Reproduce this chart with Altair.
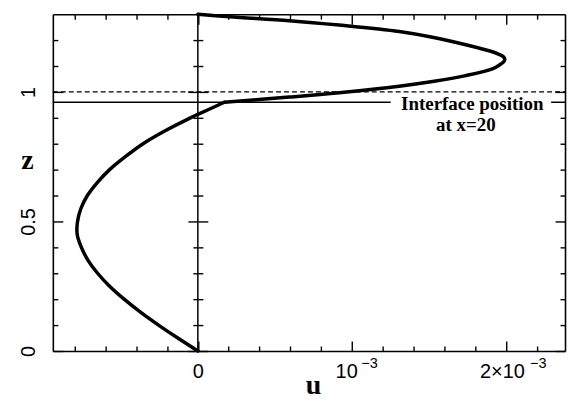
import json
import altair as alt
import pandas as pd

# ---- data ----
# lower branch (z = 0 ... interface kink)
u_lower = [0.0, -0.000130, -0.000255, -0.000372, -0.000478, -0.000572, -0.000650,
           -0.000712, -0.000755, -0.000782, -0.000780, -0.000758, -0.000716,
           -0.000652, -0.000572, -0.000470, -0.000355, -0.000212, -0.000048, 0.0,
           0.000172]
z_lower = [0.0, 0.05, 0.10, 0.15, 0.20, 0.25, 0.30, 0.35, 0.40, 0.45, 0.50, 0.55,
           0.60, 0.65, 0.70, 0.75, 0.80, 0.85, 0.90, 0.913, 0.960]
# upper branch (interface kink ... top)
u_upper = [0.000172, 0.000593, 0.000916, 0.001305, 0.001521, 0.001737, 0.001909,
           0.001955, 0.001982, 0.001990, 0.001978, 0.001945, 0.001909, 0.001737,
           0.001521, 0.001305, 0.000916, 0.000593, 0.000204, 0.0]
z_upper = [0.960, 0.980, 0.997, 1.022, 1.040, 1.063, 1.089, 1.104, 1.116, 1.126,
           1.137, 1.147, 1.155, 1.182, 1.211, 1.233, 1.258, 1.275, 1.290, 1.300]

interface_z = [0.96, 0.96]
dashed_z = [1.0]
x_label_values = [0, 0.001, 0.002]
x_label_base = ["0", "10", "2\u00d710"]
x_label_sup_values = [0.001, 0.002]
x_label_sup = "\u22123"
y_label_values = [0, 0.5, 1]
y_label_texts = ["0", "0.5", "1"]
x_tick_values = [-0.0008, -0.0006, -0.0004, -0.0002, 0, 0.0002, 0.0004, 0.0006,
                 0.0008, 0.001, 0.0012, 0.0014, 0.0016, 0.0018, 0.002, 0.0022]
y_tick_values = [0, 0.1, 0.2, 0.3, 0.4, 0.5, 0.6, 0.7, 0.8, 0.9, 1.0, 1.1, 1.2]
annot_labels = ["Interface position", "at x=20"]

# ---- layout / annotation positions ----
X_DOMAIN = [-0.00094, 0.00238]
Y_DOMAIN = [0, 1.3]
W, H = 514, 338
x0_px = (0 - X_DOMAIN[0]) / (X_DOMAIN[1] - X_DOMAIN[0]) * W
gap_left, gap_right = 0.00125, 0.00229
annot_u = [0.001779, 0.001737]
annot_z = [0.929, 0.849]

xs = alt.Scale(domain=X_DOMAIN)
ys = alt.Scale(domain=Y_DOMAIN)

X_MAJOR = "abs(datum.value*1000 - round(datum.value*1000)) < 1e-6"
Y_MAJOR = "abs(datum.value*2 - round(datum.value*2)) < 1e-6"
SANS = "Liberation Sans"
SERIF = "Liberation Serif"


def tick_axis(orient, offset, values, test, domain=False):
    return alt.Axis(orient=orient, offset=offset, values=values, labels=False,
                    title="", domain=domain, domainColor="black", domainWidth=1.6,
                    ticks=True, tickColor="black", tickWidth=1.4,
                    tickSize={"condition": {"test": test, "value": 10}, "value": 5},
                    grid=False)


x_label_axis = alt.Axis(
    orient="bottom", values=x_label_values,
    labelExpr=json.dumps(x_label_base, ensure_ascii=False) + "[round(datum.value*1000)]",
    ticks=False, tickSize=0, labelPadding=27, labelBaseline="alphabetic",
    labelAlign="center", labelFlush=False, labelOverlap=False,
    labelOffset={"condition": [{"test": "datum.value > 0.0015", "value": -4.5},
                               {"test": "datum.value > 0.0005", "value": -6}],
                 "value": 0},
    labelFont=SANS, labelFontSize=20, labelColor="black",
    domain=True, domainColor="black", domainWidth=1.6, grid=False,
    title="u", titleFont=SERIF, titleFontWeight="bold", titleFontSize=28,
    titleColor="black", titleX=261, titleY=43, titleAlign="center",
    titleBaseline="alphabetic")

x_sup_axis = alt.Axis(
    orient="bottom", values=x_label_sup_values,
    labelExpr=json.dumps(x_label_sup, ensure_ascii=False),
    ticks=False, tickSize=0, labelPadding=16.5, labelBaseline="alphabetic",
    labelAlign="center", labelFlush=False, labelOverlap=False,
    labelOffset={"condition": {"test": "datum.value > 0.0015", "value": 31.5},
                 "value": 17},
    labelFont=SANS, labelFontSize=14.5, labelColor="black",
    domain=False, grid=False, title="")

y_label_axis = alt.Axis(
    orient="left", values=y_label_values,
    labelExpr=json.dumps(y_label_texts) + "[round(datum.value*2)]",
    ticks=False, tickSize=0, labelAngle=270, labelAlign="center",
    labelBaseline="middle", labelPadding=24, labelFlush=False, labelOverlap=False,
    labelFont=SANS, labelFontSize=20, labelColor="black",
    domain=True, domainColor="black", domainWidth=1.6, grid=False,
    title="z", titleAngle=0, titleFont=SERIF, titleFontWeight="bold",
    titleFontSize=28, titleColor="black", titleX=-26, titleY=154.5,
    titleAlign="center", titleBaseline="alphabetic")

curve_df = pd.DataFrame({
    "u": u_lower + u_upper,
    "z": z_lower + z_upper,
    "part": ["lower"] * len(u_lower) + ["upper"] * len(u_upper),
    "i": list(range(len(u_lower) + len(u_upper))),
})
curve = alt.Chart(curve_df).mark_line(
    color="black", strokeWidth=3.5, strokeJoin="round", strokeCap="round",
    interpolate="catmull-rom"
).encode(
    x=alt.X("u:Q", scale=xs, axis=x_label_axis),
    y=alt.Y("z:Q", scale=ys, axis=y_label_axis),
    detail="part:N",
    order="i:Q",
)

vline_df = pd.DataFrame({"u": [0.0], "z0": [Y_DOMAIN[0]], "z1": [Y_DOMAIN[1]]})
vline = alt.Chart(vline_df).mark_rule(color="black", strokeWidth=1.5).encode(
    x=alt.X("u:Q", scale=xs, axis=tick_axis("top", -H, x_tick_values, X_MAJOR)),
    y=alt.Y("z0:Q", scale=ys, axis=tick_axis("right", -W, y_tick_values, Y_MAJOR)),
    y2="z1:Q",
)

dash_df = pd.DataFrame({"u0": [X_DOMAIN[0]], "u1": [X_DOMAIN[1]], "z": dashed_z})
dashed = alt.Chart(dash_df).mark_rule(color="black", strokeWidth=1.2, strokeDash=[5, 3]).encode(
    x=alt.X("u0:Q", scale=xs, axis=tick_axis("bottom", -H, x_tick_values, X_MAJOR, domain=True)),
    x2="u1:Q",
    y=alt.Y("z:Q", scale=ys, axis=tick_axis("left", -W, y_tick_values, Y_MAJOR, domain=True)),
)

iface_df = pd.DataFrame({"u0": [X_DOMAIN[0], gap_right], "u1": [gap_left, X_DOMAIN[1]],
                         "z": interface_z})
iface = alt.Chart(iface_df).mark_rule(color="black", strokeWidth=1.5).encode(
    x=alt.X("u0:Q", scale=xs, axis=None),
    x2="u1:Q",
    y=alt.Y("z:Q", scale=ys, axis=tick_axis("left", -x0_px, y_tick_values, Y_MAJOR)),
)

text_df = pd.DataFrame({"u": annot_u, "z": annot_z, "label": annot_labels})
text = alt.Chart(text_df).mark_text(
    font=SERIF, fontWeight="bold", fontSize=19, color="black",
    align="center", baseline="alphabetic"
).encode(
    x=alt.X("u:Q", scale=xs, axis=x_sup_axis),
    y=alt.Y("z:Q", scale=ys, axis=tick_axis("right", -(W - x0_px), y_tick_values, Y_MAJOR)),
    text="label:N",
)

chart = alt.layer(curve, vline, dashed, iface, text).resolve_axis(
    x="independent", y="independent"
).properties(
    width=W, height=H,
    autosize=alt.AutoSizeParams(type="none"),
    padding={"left": 45, "top": 5.5, "right": 3, "bottom": 53},
    background="white",
).configure_view(stroke=None).configure_axis(grid=False)

chart.save("out.html", embed_options={"renderer": "svg", "actions": False})
